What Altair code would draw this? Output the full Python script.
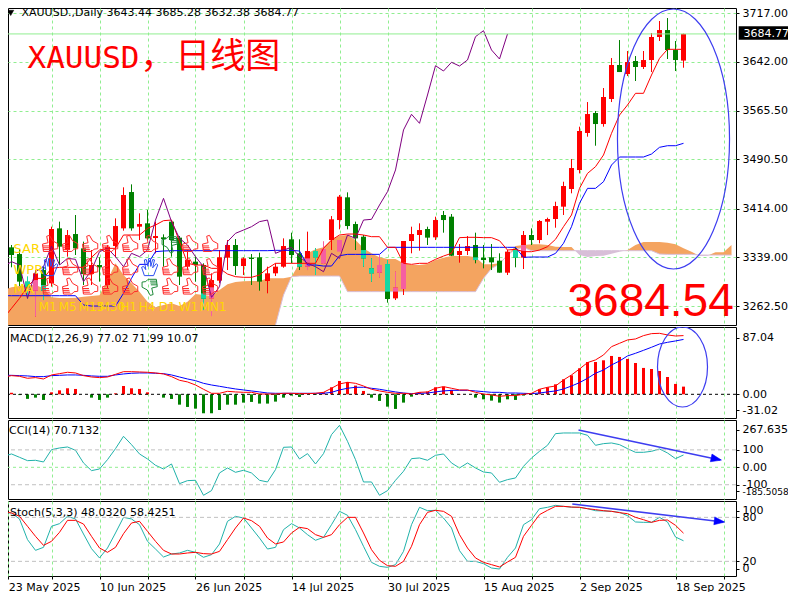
import altair as alt
import pandas as pd

open_ = [3324,3354,3343.6,3300.8,3286.8,3318.8,3298.2,3383.4,3349.8,3374.6,3352.4,3312.6,3326.6,3295.6,3356,3383.4,3439.7,3386,3391.2,3368.4,3369.5,3393.8,3369,3324,3331.8,3326.6,3274.9,3302.3,3338,3357.6,3325,3338,3338.5,3301.8,3313.7,3324,3366.4,3344.7,3324,3348.3,3329.2,3365.3,3396.3,3431.5,3390.1,3370.5,3321.4,3314.7,3328.1,3274.9,3289.4,3363.8,3373.1,3382.4,3369.5,3404.1,3401.5,3342.1,3348.3,3357.6,3338,3338.5,3333.3,3314.7,3350.9,3338,3373.1,3365.3,3393.7,3397.9,3417,3444.4,3473.8,3531.2,3562.2,3545.1,3583.9,3636.6,3622.6,3642.8,3633.5,3644.3,3680,3690.8,3659.8,3643.44]
high = [3367.9,3357.6,3350.9,3308.5,3318.8,3324,3386,3393.8,3380.8,3404.1,3362.8,3349.8,3338.5,3357.6,3398.9,3447,3451.6,3406.7,3411.9,3393.8,3374.1,3396.3,3371.5,3349.8,3339.5,3329.2,3313.7,3349.8,3365.3,3366.9,3338.5,3343.6,3345.7,3324,3329.2,3367.9,3376.7,3366.4,3378.3,3352.4,3362.8,3402.5,3435.1,3439.2,3393.8,3373.1,3336.9,3342.1,3334.3,3316.2,3363.8,3386,3391.2,3386,3401.5,3410.3,3405.6,3359.1,3371.5,3376.7,3357.6,3359.1,3344.7,3349.8,3354,3379.3,3383.4,3396.3,3400,3424.7,3455.7,3490.9,3541,3579.2,3565.3,3600.9,3647.4,3675.3,3658.3,3650.5,3658.3,3686.2,3704.8,3709.4,3673.8,3685.28]
low = [3321.4,3323,3294,3274.9,3246.5,3272.3,3293,3326.6,3339.5,3342.1,3295.6,3295.6,3300.8,3290.4,3338.5,3379.8,3379.8,3365.3,3365.3,3344.7,3324,3339.5,3295.6,3318.8,3300.8,3256.8,3247.5,3298.2,3318.8,3311.1,3311.1,3295.6,3286.8,3282.7,3309.5,3322.4,3329.2,3318.8,3318.8,3311.1,3328.1,3349.8,3381.9,3381.9,3349.8,3324,3300.8,3307.5,3268.2,3272.3,3280.1,3344.7,3348.8,3357.6,3365.3,3376.7,3340.5,3330.2,3342.1,3329.2,3321.4,3318.8,3314.7,3311.1,3323,3320.4,3357.6,3360.2,3373,3384.4,3404.1,3437.7,3468.6,3525.5,3511.5,3541,3579.2,3625.7,3619.5,3611.8,3630.4,3625.7,3673.8,3645.9,3627.3,3632.38]
close = [3360.2,3342.1,3300.8,3292,3313.7,3286.8,3382.4,3355,3373.1,3352.4,3312.6,3326.6,3323,3355,3387,3435.1,3383.4,3390.1,3367.9,3371.5,3366.9,3365.3,3308.5,3334.3,3326.6,3274.4,3303.3,3338.5,3357.6,3325,3336.9,3335.9,3300.8,3313.7,3324,3356,3342.1,3324,3348.3,3338.5,3351.4,3397.4,3432.5,3387,3367.9,3336.9,3313.7,3326.6,3273.9,3291.5,3363.8,3374.6,3380.8,3369,3396.3,3396.3,3341,3348.3,3356,3334.3,3334.3,3330.7,3314.7,3347.3,3338,3373.1,3365.3,3394.8,3397.9,3418,3449,3476.9,3534.3,3560.6,3545.1,3587,3636.6,3625.7,3641.2,3633.5,3644.3,3680,3690.8,3659.8,3644.3,3684.77]

senkou_a = [3287.8,3292,3294,3295.1,3295.6,3290.4,3276.5,3275.4,3275.4,3276,3277.5,3278.5,3279.6,3303.3,3329.2,3311.1,3298.2,3285.3,3269.8,3261,3264.6,3267.2,3263,3269.8,3281.6,3280.1,3278.5,3287.8,3296.6,3300.2,3301.3,3301.8,3301.8,3305.9,3305.9,3305.9,3308.5,3329.2,3344.7,3350.9,3354,3365.3,3372,3373.1,3365.3,3352.4,3344.7,3338.5,3335.9,3335.9,3329.2,3326.6,3326.6,3328.1,3334.3,3338,3340.5,3340.5,3340.5,3338.5,3327.6,3327.6,3329.2,3342.1,3356,3357.6,3358.6,3358.6,3357.6,3355,3354.5,3354.5,3342,3339,3340.5,3341,3344.1,3347.2,3349.8,3357.6,3362.2,3362.2,3362.2,3361.2,3358.6,3352.4,3347.2,3340.5,3341,3346.2,3346.2,3357.6]
senkou_b = [3225]*34 + [3233.6,3280.1,3308.5,3309.5,3309.5,3309.5,3309.5,3309.5,3309.5,3285.3,3285.3,3285.3,3285.3,3285.3,3285.3,3285.3,3285.3,3285.3,3285.3,3285.3,3285.3,3285.3,3285.3,3285.3,3285.3,3285.3,3305.9,3321.4,3328.1,3342.1,3350.9,3354,3348.8,3348.8,3348.8,3348.8,3348.8,3348.8,3348.8,3348.8,3348.8,3348.8,3348.8,3348.8,3348.8,3348.8,3348.8,3348.8,3343.6,3343.1,3343.1,3343.1,3343.1,3342,3342,3342,3342,3342]
tenkan = [3243.9,3259.4,3274.9,3293,3305.9,3305.9,3321.4,3323,3323,3323,3323,3338.5,3349.8,3352.4,3352.4,3373.1,3373.1,3373.1,3383.4,3388.6,3395.3,3396.3,3362.8,3329.2,3326.6,3326.6,3321.4,3321.4,3312.6,3308.5,3307.5,3307.5,3311.1,3321.4,3329.2,3329.2,3329.2,3329.2,3329.2,3329.2,3352.4,3365.3,3373.1,3374.6,3374.6,3373.1,3370.5,3370.5,3354,3354,3329.2,3327.6,3329.2,3329.2,3335.4,3340.5,3344.7,3369,3369.5,3369.5,3369,3369,3364.3,3349.8,3350.9,3347.3,3347.2,3349.8,3355,3366.4,3386,3404.1,3445.4,3468.6,3479,3497.1,3530.7,3559,3574.6,3592.7,3592.7,3621.1,3646.9,3660.9,3660.9,3660.9]
kijun = [3279,3279,3279,3279,3279,3279,3279,3279,3279,3279,3264.6,3263,3263,3263,3263,3282.7,3305.9,3327.6,3327.6,3347.3,3348.3,3348.8,3348.8,3348.8,3348.8,3348.8,3348.8,3348.8,3348.8,3348.8,3348.8,3348.8,3348.8,3348.8,3349.3,3349.3,3349.3,3348.3,3326.6,3326.6,3325,3325,3341,3343.1,3343.1,3343.1,3343.1,3343.1,3354,3354,3354,3354,3354,3354,3354,3354,3354,3354,3354,3354,3354,3354,3354,3354,3354,3338.5,3339,3339,3339,3344.6,3360.2,3386,3422.2,3445.4,3445.4,3455.7,3481.6,3494,3494,3494,3494,3498.6,3509,3511.5,3511.5,3515.2]
chikou = [3324,3331.8,3326.6,3274.9,3316.2,3324,3356,3326.6,3336.9,3335.4,3300.8,3318.8,3347.3,3352.4,3339.5,3324,3344.7,3339.5,3349.8,3396.3,3429.9,3393.8,3367.9,3357.6,3339.5,3324,3276.5,3293,3362.8,3375.7,3380.8,3386,3393.8,3396.3,3344.7,3349.8,3354,3339.5,3329.2,3324,3316.2,3344.7,3336.9,3373.1,3367.9,3396.3,3397.4,3419.6,3440.3,3473.9,3535.9,3560.2,3546.2,3590.1,3635.5,3627.3,3640.8,3635,3644.4,3680.5,3689.8,3659.9,3645.9,3684.7]

macd_hist = [-4.4,2,-1,-6,-4.4,-7.4,2.6,5.2,7.9,7,0,-4.4,-7.4,-4.4,1.3,10.9,7.9,7,2.6,0,-4.4,-6.1,-13.6,-16.6,-18.8,-24.9,-24.9,-20.6,-13.6,-13.6,-10.9,-10,-12.2,-12.2,-9.6,-4.4,-1.7,-3.5,0,-0.9,2.6,9.2,17.5,16.2,11.4,4.4,-4.4,-8.7,-16.2,-19.2,-10.9,-3.1,2.6,3.5,9.2,10,5.7,0.4,0,-4.4,-6.6,-8.3,-10.9,-6.6,-7.4,-1.7,1.3,6.6,9.2,13.1,19.7,24.9,34.1,42.4,42.4,44.6,50.3,49,46.4,41.1,34.6,33.2,30.6,22.7,13.6,10.07]
macd_main = [22.7,24.5,23.6,21,21.9,20.1,25.4,27.1,28.9,28,24.5,22.7,21.9,22.7,26.2,29.7,29.7,29.3,28.9,28,26.7,23.2,18.4,16.2,12.2,6.6,1.3,1.3,3.9,3.1,2.6,2.6,0.4,0.4,0.4,1.3,1.3,0.9,0.9,1.3,2.6,7.9,13.6,15.7,14.4,10.9,6.6,4.4,2.6,1.3,1.3,0.4,2.6,3.1,7.9,10.1,7.9,5.7,5.7,2.6,0.4,-0.9,-2.6,-1.7,-1.7,0,1.3,6.6,9.2,10.9,18.8,25.4,33.2,41.6,45.1,51.6,62.5,66.9,71.3,72.6,77,79.6,80,77.9,76.5,77.02]
macd_signal = [24.9,24.9,24.5,24.1,23.2,23.2,24.5,24.9,25.4,25.4,24.9,24.1,23.6,23.6,25.4,26.7,27.6,28,28,27.6,27.1,25.4,22.7,20.1,17.9,14.4,12.2,10.5,8.7,7,5.7,4.4,3.1,1.7,1.3,1.3,1.3,1.3,1.3,1.3,1.3,2.6,5.7,7.9,9.2,9.2,7.9,6.6,4.8,3.1,1.7,0.9,1.3,1.7,3.1,4.4,5.2,5.2,5.2,4.4,3.5,2.6,2.6,1.7,1.7,1.3,0.9,1.7,3.1,4.4,7,10.9,15.3,21,27.6,31.9,38.5,43.7,50.3,53.8,57.7,61.7,66,68.2,70,71.99]
cci = [63,76.5,57.4,38.2,40.2,30.6,101.3,110.9,116.6,97.5,24.9,-19.1,-9.6,44,107.1,177.8,130,76.5,47.8,11.5,-9.6,19.1,-93.7,-76.5,-74.6,-160.6,-133.8,-32.5,-3.8,-28.7,-17.2,-32.5,-74.6,-84.1,-13.4,114.7,116.6,47.8,78.4,19.1,78.4,187.4,240.9,149.1,44,-84.1,-84.1,-160.6,-133.8,-74.6,-22.9,49.7,53.5,40.2,68.8,76.5,24.9,-3.8,24.9,-3.8,-26.8,-32.5,-86,-70.7,-61.2,5.7,53.5,91.8,126.2,193.1,196.9,196.9,196.9,183.6,126.2,135.8,139.6,130,107.1,86,86,91.8,105.2,82.2,49.7,70.71]
stoch_k = [86.8,85.9,77.8,49.6,35,39.1,67.8,71.4,81.4,77.8,57.3,37.3,24.6,38.2,58.7,80,77.8,70,47.3,36.8,25.9,30,31.4,35,32.3,25.5,29.1,43.7,74.6,81.4,79.1,65.5,51.8,36.8,39.1,63.2,71.4,65.5,56.4,48.7,52.7,70,88.2,82.8,63.2,40.5,18.6,13.2,11.8,15.5,33.6,70,93.7,89.1,89.6,79.1,65.5,34.6,20,20,16.8,10.9,9.5,25.5,38.2,70,76.8,91.8,93.7,96.4,95,93.7,93.7,91.8,89.1,88.7,88.2,86.8,82.3,73.7,73.2,73.2,80,73.7,53.2,48.03]
stoch_d = [88.2,85.9,81.4,67.8,54.1,41.8,47.3,59.6,75.9,75.9,70.9,54.1,38.2,32.3,39.1,57.7,72.3,74.6,60.9,47.3,35,30,30,31.4,32.3,30.5,30,33.6,49.6,65.5,79.1,75.5,67.8,51.8,43.7,46.4,58.7,66.4,64.6,56.4,52.7,56.4,70,80,80,58.7,35.9,21.4,14.1,13.2,20,40.5,70,86.8,89.6,88.2,81.4,56.4,38.2,24.6,18.6,15.5,12.3,19.1,25.5,54.1,69.1,83.7,89.6,95,95,94.1,93.7,91.8,90.5,89.1,88.2,86.4,85,80,76.8,73.2,75.9,76.4,69.1,58.4251]

# candle pieces that show inverted colours over the cloud: bar, top, bottom
teal_bodies = [(3,3300.8,3292),(5,3295.6,3286.8),(25,3282.7,3274.4),(37,3329.2,3324),(39,3348.3,3338.5),(45,3349.8,3336.9),(46,3321.4,3313.7),(48,3328.1,3285.3),(59,3338.5,3334.3),(64,3350.9,3338)]
pink_bodies = [(4,3303.3,3286.8),(26,3292,3274.9),(38,3336.9,3324),(40,3351.4,3329.2),(42,3365.3,3347.3),(47,3326.6,3314.7),(49,3291.5,3285.3),(50,3330.2,3289.4),(65,3357.6,3348.3)]
teal_wicks = [(3,3308.5,3274.9),(5,3286.8,3272.3),(25,3274.4,3256.8),(39,3352.4,3311.1),(45,3336.9,3324),(46,3336.9,3300.8),(48,3334.3,3328.1)]
pink_wicks = [(4,3286.8,3246.5),(26,3274.9,3247.5),(38,3324,3318.8),(40,3362.8,3328.1),(47,3342.1,3307.5),(49,3316.2,3291.5)]

price_ticks = [3717, 3642, 3565.5, 3490.5, 3414, 3339, 3262.5]
grid_bars = [6,12,18,24,30,36,42,48,54,60,66,72,78,84,90]
date_ticks = {"0.6": "23 May 2025", "12": "10 Jun 2025", "24": "26 Jun 2025", "36": "14 Jul 2025", "48": "30 Jul 2025", "60": "15 Aug 2025", "72": "2 Sep 2025", "84": "18 Sep 2025"}
tf_labels = ["M1","M5","M15","M30","H1","H4","D1","W1","MN1"]
tf_pos = [4.4,6.9,9.4,12,14.6,16.9,19.4,21.9,24.5]
row_labels = [("SAR",3351),("WPR",3319),("MA",3289.4)]
thumb_cols = [5.8,8.3,10.8,13.3,15.8,18.3,20.8,23.3,25.8]
thumb_rows = [3359,3323,3293]
thumb_states = [["u","u","u","u","u","u","d","u","u"],
                ["h","u","u","u","u","h","u","u","u"],
                ["u","u","u","u","u","d","u","u","u"]]

FONT = "DejaVu Sans"
RED, GREEN, BLUE, PURPLE = "#ff0000", "#008000", "#0000ff", "#800080"
TEAL, PINK = "#14d8a4", "#f65ea0"
ORANGE, THISTLE = "#f4a460", "#d8bfd8"
GRID = "#90ee90"
SEA = "#20b2aa"
ANNO = "#3d3df0"
W = 728
XDOM = [0.5625, 91.5625]

THUMB = ("M-0.8,0 L-0.2,-0.15 L-0.35,-0.85 L-0.05,-0.95 L0.3,-0.35 L0.85,-0.05 L0.85,0.5 L0.45,0.55 "
         "L0.2,0.8 L-0.7,0.8 Z M-0.8,0.2 L-0.1,0.2 M-0.75,0.4 L-0.05,0.4 M-0.75,0.6 L0,0.6")
HAND = ("M-0.6,0.9 L-0.9,0 L-0.7,-0.1 L-0.45,0.25 L-0.6,-0.8 L-0.4,-0.85 L-0.2,-0.1 L-0.15,-0.95 "
        "L0.05,-0.95 L0.1,-0.1 L0.3,-0.85 L0.5,-0.8 L0.3,0.05 L0.7,-0.4 L0.85,-0.25 L0.4,0.9 Z")
ELL_MAIN = "M-0.431,0 A0.431,1 0 1 1 0.431,0 A0.431,1 0 1 1 -0.431,0 Z"
ELL_MACD = "M-0.625,0 A0.625,1 0 1 1 0.625,0 A0.625,1 0 1 1 -0.625,0 Z"
HEAD = "M-1,-0.75 L1,0 L-1,0.75 Z"


def xenc(axis=None, field="i"):
    return alt.X(f"{field}:Q", scale=alt.Scale(domain=XDOM, nice=False, zero=False, padding=0), axis=axis, title=None)


def yenc(dom, field="v", axis=None):
    return alt.Y(f"{field}:Q", scale=alt.Scale(domain=dom, nice=False, zero=False, padding=0), axis=axis, title=None)


x_grid = alt.Axis(values=grid_bars, grid=True, gridColor=GRID, gridDash=[3, 3], gridWidth=1,
                  labels=False, ticks=False, domain=False, title=None)


def right_axis(values, expr=None, grid=False, **extra):
    kw = dict(orient="right", values=values, grid=grid, domain=False, tickSize=3, tickColor="black",
              labelFont=FONT, labelFontSize=11, labelColor="black", labelPadding=3,
              labelOverlap=False, labelBound=False, labelFlush=False, title=None)
    if grid:
        kw.update(gridColor=GRID, gridDash=[3, 3], gridWidth=1)
    if expr:
        kw["labelExpr"] = expr
    else:
        kw["format"] = ".2f"
    kw.update(extra)
    return alt.Axis(**kw)


def line(df, dom, color, width=1):
    return alt.Chart(df).mark_line(color=color, strokeWidth=width, clip=True, interpolate="linear").encode(
        x=xenc(), y=yenc(dom))


def series(values):
    return pd.DataFrame({"i": range(len(values)), "v": values})


def text(dom, rows, color="black", size=11, font=FONT, align="left", baseline="middle", clip=False):
    df = pd.DataFrame(rows, columns=["i", "v", "t"])
    return alt.Chart(df).mark_text(color=color, fontSize=size, font=font, align=align, baseline=baseline,
                                   clip=clip).encode(x=xenc(), y=yenc(dom), text="t:N")


def rule_between(dom, df, color, width, dash=None):
    kw = dict(color=color, strokeWidth=width, clip=True)
    if dash:
        kw["strokeDash"] = dash
    return alt.Chart(df).mark_rule(**kw).encode(
        x=xenc(), x2=alt.X2("i2:Q"), y=yenc(dom), y2=alt.Y2("v2:Q"))


def glyph(dom, rows, shape, size, color, angle=0, filled=False, width=1.0):
    df = pd.DataFrame(rows, columns=["i", "v"])
    kw = dict(shape=shape, size=size, filled=filled, opacity=1, clip=True, angle=angle)
    if filled:
        kw.update(fill=color, stroke=color, strokeWidth=0.5)
    else:
        kw.update(stroke=color, strokeWidth=width)
    return alt.Chart(df).mark_point(**kw).encode(x=xenc(), y=yenc(dom))


def hline(dom, values, color, dash=None, width=1):
    df = pd.DataFrame({"v": values})
    kw = dict(color=color, strokeWidth=width)
    if dash:
        kw["strokeDash"] = dash
    return alt.Chart(df).mark_rule(**kw).encode(y=yenc(dom))


# ---------- main price panel ----------
DOM_P = [3233.6, 3724.95]
rows = []
seg = 0
for k in range(len(senkou_a)):
    a, b = senkou_a[k], senkou_b[k]
    rows.append((float(k), a, b, seg, ORANGE if a >= b else THISTLE))
    if k + 1 < len(senkou_a):
        a2, b2 = senkou_a[k + 1], senkou_b[k + 1]
        if (a - b) * (a2 - b2) < 0:
            t = (a - b) / ((a - b) - (a2 - b2))
            cross = a + t * (a2 - a)
            rows.append((k + t, cross, cross, seg, ORANGE if a >= b else THISTLE))
            seg += 1
            rows.append((k + t, cross, cross, seg, ORANGE if a2 >= b2 else THISTLE))
cloud_df = pd.DataFrame(rows, columns=["i", "v", "v2", "seg", "c"])

cloud = alt.Chart(cloud_df).mark_area(clip=True, interpolate="linear").encode(
    x=xenc(x_grid),
    y=yenc(DOM_P, axis=right_axis(price_ticks, grid=True)),
    y2=alt.Y2("v2:Q"),
    color=alt.Color("c:N", scale=None),
    detail="seg:N",
)
b_line = line(series(senkou_b), DOM_P, THISTLE)

n = len(close)
cdf = pd.DataFrame({"i": range(n), "o": open_, "h": high, "l": low, "c": close})
cdf["col"] = [RED if c >= o else GREEN for o, c in zip(open_, close)]
wicks = alt.Chart(cdf).mark_rule(strokeWidth=1, clip=True).encode(
    x=xenc(), y=yenc(DOM_P, "l"), y2=alt.Y2("h:Q"), color=alt.Color("col:N", scale=None))
bodies = alt.Chart(cdf).mark_bar(size=5, clip=True).encode(
    x=xenc(), y=yenc(DOM_P, "o"), y2=alt.Y2("c:Q"), color=alt.Color("col:N", scale=None))


def overlay(bars, color):
    df = pd.DataFrame(bars, columns=["i", "t", "b"])
    return alt.Chart(df).mark_bar(size=5, clip=True, color=color).encode(
        x=xenc(), y=yenc(DOM_P, "t"), y2=alt.Y2("b:Q"))


def overlay_wick(bars, color):
    df = pd.DataFrame(bars, columns=["i", "t", "b"])
    return alt.Chart(df).mark_rule(strokeWidth=1, clip=True, color=color).encode(
        x=xenc(), y=yenc(DOM_P, "t"), y2=alt.Y2("b:Q"))


thumb_layers = []
for row_v, states in zip(thumb_rows, thumb_states):
    for col_i, s in zip(thumb_cols, states):
        if s == "u":
            thumb_layers.append(glyph(DOM_P, [(col_i, row_v)], THUMB, 340, "#ff2a2a", angle=0))
        elif s == "d":
            thumb_layers.append(glyph(DOM_P, [(col_i, row_v)], THUMB, 340, "#1f8a3a", angle=180))
        else:
            thumb_layers.append(glyph(DOM_P, [(col_i, row_v)], HAND, 340, "#2a4df0", angle=0))

gold_texts = [text(DOM_P, [(tf_pos[j], 3261.5, tf_labels[j]) for j in range(len(tf_labels))], "#ffd700", 12),
              text(DOM_P, [(1.25, v, t) for t, v in row_labels], "#ffd700", 13)]

box_df = pd.DataFrame({"i": [91.9], "i2": [98.8], "v": [3675.6], "v2": [3696.5]})
last_box = alt.Chart(box_df).mark_rect(color="black").encode(
    x=xenc(), x2=alt.X2("i2:Q"), y=yenc(DOM_P), y2=alt.Y2("v2:Q"))

main = alt.layer(
    cloud,
    b_line,
    wicks,
    bodies,
    overlay(teal_bodies, TEAL), overlay(pink_bodies, PINK),
    overlay_wick(teal_wicks, TEAL), overlay_wick(pink_wicks, PINK),
    line(series(kijun), DOM_P, BLUE),
    line(series(tenkan), DOM_P, RED),
    line(series(chikou), DOM_P, PURPLE),
    *thumb_layers,
    *gold_texts,
    hline(DOM_P, [3684.77], GRID),
    glyph(DOM_P, [(83.75, 3521.9)], ELL_MAIN, 67600, ANNO, width=1.2),
    glyph(DOM_P, [(0.9, 3717.3)], "triangle-down", 38, "black", filled=True),
    text(DOM_P, [(2.25, 3717.3, "XAUUSD.,Daily  3643.44 3685.28 3632.38 3684.77")]),
    text(DOM_P, [(3.0, 3632, "XAUUSD")], RED, 31, "DejaVu Sans Mono", baseline="alphabetic"),
    text(DOM_P, [(17.1, 3632, "，日线图")], RED, 35, "Noto Sans CJK SC", baseline="alphabetic"),
    text(DOM_P, [(70.5, 3247.5, "3684.54")], RED, 46, "Liberation Sans", baseline="alphabetic"),
    last_box,
    text(DOM_P, [(92.5, 3684.77, "3684.77")], "white"),
).resolve_axis(x="independent", y="independent").properties(width=W, height=317)

# ---------- MACD ----------
DOM_M = [-31.1, 88.3]
hist_df = pd.DataFrame({"i": range(len(macd_hist)), "v": macd_hist, "v2": [0.0] * len(macd_hist)})
hist_df["col"] = [RED if v > 0 else GREEN for v in macd_hist]
macd_axis = right_axis([73.9, 0, -20.7], "datum.value > 50 ? '87.04' : datum.value < -5 ? '-31.02' : '0.00'")
macd = alt.layer(
    alt.Chart(hist_df).mark_bar(size=3, clip=True).encode(
        x=xenc(x_grid), y=yenc(DOM_M, axis=macd_axis), y2=alt.Y2("v2:Q"),
        color=alt.Color("col:N", scale=None)),
    hline(DOM_M, [0], "black", [3, 3]),
    line(series(macd_signal), DOM_M, BLUE),
    line(series(macd_main), DOM_M, RED),
    glyph(DOM_M, [(84.875, 35.8)], ELL_MACD, 6400, ANNO, width=1.2),
    text(DOM_M, [(0.8, 72.6, "MACD(12,26,9) 77.02 71.99 10.07")]),
).resolve_axis(x="independent", y="independent").properties(width=W, height=91)

# ---------- CCI ----------
DOM_C = [-181.9, 271.4]
cci_axis = right_axis([215.7, 100, 0, -100, -136],
                      "datum.value > 150 ? '267.635' : datum.value < -120 ? '-185.5058' : datum.value == 100 ? '100' : datum.value == -100 ? '-100' : '0.00'",
                      labelFontSize={"condition": {"test": "datum.value == -136", "value": 9}, "value": 11})
arrow_c = pd.DataFrame({"i": [71.875], "i2": [89.6], "v": [214.0], "v2": [41.9]})
cci_panel = alt.layer(
    alt.Chart(series(cci)).mark_line(color=SEA, strokeWidth=1, clip=True).encode(
        x=xenc(x_grid), y=yenc(DOM_C, axis=cci_axis)),
    hline(DOM_C, [100, -100], "#c0c0c0", [4, 3]),
    hline(DOM_C, [0], GRID, [3, 3]),
    rule_between(DOM_C, arrow_c, ANNO, 1.6),
    glyph(DOM_C, [(89.1, 47.6)], HEAD, 110, BLUE, angle=12, filled=True),
    text(DOM_C, [(0.7, 208, "CCI(14) 70.7132")]),
).resolve_axis(x="independent", y="independent").properties(width=W, height=79)

# ---------- Stochastic ----------
DOM_S = [0, 102.3]
stoch_axis = right_axis([89, 80, 20, 10],
                        "datum.value == 89 ? '100' : datum.value == 80 ? '80' : datum.value == 20 ? '20' : '0'")
x_bottom = alt.Axis(values=[0.6] + grid_bars, grid=True, gridColor=GRID, gridDash=[3, 3], gridWidth=1,
                    domain=False, tickSize=3, tickColor="black", labelFont=FONT, labelFontSize=11,
                    labelColor="black", labelAlign="left", labelPadding=2, labelOverlap=False,
                    labelBound=False, labelFlush=False, title=None,
                    labelExpr="(" + str(date_ticks).replace(": ", ":") + ")[datum.value] || ''")
arrow_s = pd.DataFrame({"i": [71.1], "i2": [90.0], "v": [98.2], "v2": [73.7]})
stoch_panel = alt.layer(
    alt.Chart(series(stoch_k)).mark_line(color=SEA, strokeWidth=1, clip=True).encode(
        x=xenc(x_bottom), y=yenc(DOM_S, axis=stoch_axis)),
    hline(DOM_S, [80, 20], "#c0c0c0", [4, 3]),
    line(series(stoch_d), DOM_S, RED),
    rule_between(DOM_S, arrow_s, ANNO, 1.6),
    glyph(DOM_S, [(89.5, 74.4)], HEAD, 110, BLUE, angle=7, filled=True),
    text(DOM_S, [(0.8, 86, "Stoch(5,3,3) 48.0320 58.4251")]),
).resolve_axis(x="independent", y="independent").properties(width=W, height=75)

chart = alt.vconcat(main, macd, cci_panel, stoch_panel, spacing=2, bounds="flush").properties(
    padding={"left": 0, "top": 0, "right": 52, "bottom": 584},
    autosize=alt.AutoSizeParams(type="none"),
    background="white",
).configure_view(stroke="black", strokeWidth=1)

chart.save("out.html", embed_options={"renderer": "svg", "actions": False})
